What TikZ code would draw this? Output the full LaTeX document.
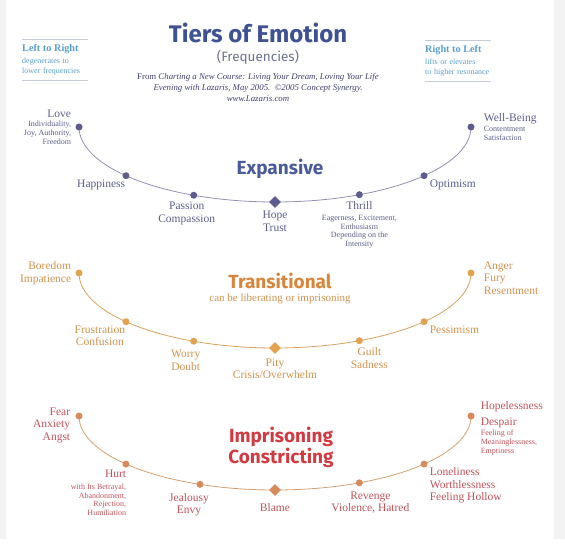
\documentclass[tikz,border=0pt]{standalone}
\usepackage{fontspec}
\setmainfont{Liberation Serif}
\newfontfamily\headfont{Fira Sans}
\usepackage{tikz}
\usetikzlibrary{
  positioning,
  shapes.geometric,
  backgrounds,
}

\definecolor{titleblue}{HTML}{3E5192}
\definecolor{subgray}{HTML}{6E7090}
\definecolor{citeblue}{HTML}{3E3E70}
\definecolor{sideblue}{HTML}{5A9ECF}
\definecolor{rulegray}{HTML}{C5CCD4}
\definecolor{sidegray}{HTML}{F3F3F3}
\definecolor{expdot}{HTML}{5E5B8F}
\definecolor{expline}{HTML}{9390B5}
\definecolor{exptext}{HTML}{5C5E8E}
\definecolor{exphead}{HTML}{4A5B9B}
\definecolor{trdot}{HTML}{E2A24E}
\definecolor{trline}{HTML}{D9A15E}
\definecolor{trtext}{HTML}{D3924F}
\definecolor{trhead}{HTML}{D8863B}
\definecolor{imdot}{HTML}{D98A5C}
\definecolor{imline}{HTML}{D4A072}
\definecolor{imtext}{HTML}{C2525A}
\definecolor{imhead}{HTML}{D23A41}

\newcommand\mtxt{\fontsize{11.5}{12.5}\selectfont}
\newcommand\stxt{\fontsize{8}{8.8}\selectfont}

\begin{document}
\begin{tikzpicture}[
  x=1pt, y=1pt,
  dot/.style={circle, fill, inner sep=0pt, minimum size=7pt},
  gem/.style={diamond, fill, inner sep=0pt, minimum width=12pt, minimum height=12pt},
  tier/.style={line width=0.8pt},
  lbl/.style={font=\mtxt, inner sep=1pt, align=center},
  mix/.style={font=\stxt, inner sep=1pt},
  tierhead/.style={font=\headfont\bfseries\fontsize{19}{21}\selectfont, align=center, inner sep=0pt},
  side/.style={font=\fontsize{8}{10}\selectfont, text=sideblue, align=left,
    inner xsep=0pt, inner ysep=5pt, text width=66pt},
  rule/.style={draw=rulegray, line width=0.6pt},
]

\useasboundingbox (0,0) rectangle (565,-556);
\fill[sidegray] (0,0) rectangle (6,-539);
\fill[sidegray] (554,0) rectangle (565,-539);

% ── Header ──────────────────────────────────────────────────────────
\node[font=\headfont\bfseries\fontsize{24}{28}\selectfont, text=titleblue, inner sep=0pt]
  (title) at (258,-33) {Tiers of Emotion};
\node[font=\headfont\fontsize{13.5}{16}\selectfont, text=subgray, inner sep=0pt]
  (freq) at (258,-57) {(Frequencies)};
\node[font=\itshape\fontsize{8.8}{11}\selectfont, text=citeblue, align=center, inner sep=0pt]
  (cite) at (258,-87)
  {{\upshape From} Charting a New Course: Living Your Dream, Loving Your Life\\
   Evening with Lazaris, May 2005.\ \ ©2005 Concept Synergy.\\
   www.Lazaris.com};

\node[side, anchor=north west] (ltr) at (22,-39)
  {{\bfseries\fontsize{10.2}{12}\selectfont Left to Right}\\[2pt]degenerates to\\lower frequencies};
\node[side, anchor=north west] (rtl) at (425,-40)
  {{\bfseries\fontsize{10.2}{12}\selectfont Right to Left}\\[2pt]lifts or elevates\\to higher resonance};
\draw[rule] (ltr.north west) -- (ltr.north east);
\draw[rule] (ltr.south west) -- (ltr.south east);
\draw[rule] (rtl.north west) -- (rtl.north east);
\draw[rule] (rtl.south west) -- (rtl.south east);

% ── Expansive ───────────────────────────────────────────────────────
\coordinate (expc) at (275,-127);
\node[dot, expdot] (love)  at ([shift={(180:196 and 75)}]expc) {};
\node[dot, expdot] (happy) at ([shift={(220.5:196 and 75)}]expc) {};
\node[dot, expdot] (pass)  at ([shift={(245.5:196 and 75)}]expc) {};
\node[gem, expdot] (hope)  at ([shift={(270:196 and 75)}]expc) {};
\node[dot, expdot] (thril) at ([shift={(295.5:196 and 75)}]expc) {};
\node[dot, expdot] (optim) at ([shift={(319.5:196 and 75)}]expc) {};
\node[dot, expdot] (wellb) at ([shift={(360:196 and 75)}]expc) {};

\node[mix, text=exptext, align=right, left=3pt of love]
  {{\mtxt Love}\\[1pt]Individuality,\\Joy, Authority,\\Freedom};
\node[lbl, text=exptext, below left=0pt and -3pt of happy] {Happiness};
\node[lbl, text=exptext, below=2pt of pass, xshift=-7pt] {Passion\\Compassion};
\node[lbl, text=exptext, below=2pt of hope] {Hope\\Trust};
\node[mix, text=exptext, align=center, below=2pt of thril]
  {{\mtxt Thrill}\\[2pt]Eagerness, Excitement,\\Enthusiasm\\Depending on the\\Intensity};
\node[lbl, text=exptext, below right=0pt and 2pt of optim] {Optimism};
\node[mix, text=exptext, align=left, right=8pt of wellb]
  {{\mtxt Well-Being}\\[2pt]Contentment\\Satisfaction};
\node[tierhead, text=exphead] (exph) at (280,-169) {Expansive};

% ── Transitional ────────────────────────────────────────────────────
\coordinate (trc) at (275,-273);
\node[dot, trdot] (bored) at ([shift={(180:196 and 75)}]trc) {};
\node[dot, trdot] (frust) at ([shift={(220.5:196 and 75)}]trc) {};
\node[dot, trdot] (worry) at ([shift={(245.5:196 and 75)}]trc) {};
\node[gem, trdot] (pity)  at ([shift={(270:196 and 75)}]trc) {};
\node[dot, trdot] (guilt) at ([shift={(295.5:196 and 75)}]trc) {};
\node[dot, trdot] (pessi) at ([shift={(319.5:196 and 75)}]trc) {};
\node[dot, trdot] (anger) at ([shift={(360:196 and 75)}]trc) {};

\node[lbl, text=trtext, align=right, left=3pt of bored] {Boredom\\Impatience};
\node[lbl, text=trtext, below left=0pt and -3pt of frust] {Frustration\\Confusion};
\node[lbl, text=trtext, below=4pt of worry, xshift=-8pt] {Worry\\Doubt};
\node[lbl, text=trtext, below=3pt of pity] {Pity\\Crisis/Overwhelm};
\node[lbl, text=trtext, below=2pt of guilt, xshift=10pt] {Guilt\\Sadness};
\node[lbl, text=trtext, below right=0pt and 2pt of pessi] {Pessimism};
\node[lbl, text=trtext, align=left, right=8pt of anger, yshift=-5pt] {Anger\\Fury\\Resentment};
\node[tierhead, text=trhead] (trh) at (280,-281) {Transitional};
\node[lbl, font=\fontsize{11}{12}\selectfont, text=trtext] (trsub) at (280,-299)
  {can be liberating or imprisoning};

% ── Imprisoning ─────────────────────────────────────────────────────
\coordinate (imc) at (275,-416);
\node[dot, imdot] (fear)  at ([shift={(180:196 and 74)}]imc) {};
\node[dot, imdot] (hurt)  at ([shift={(220.5:196 and 74)}]imc) {};
\node[dot, imdot] (jeal)  at ([shift={(247.5:196 and 74)}]imc) {};
\node[gem, imdot] (blame) at ([shift={(270:196 and 74)}]imc) {};
\node[dot, imdot] (reven) at ([shift={(295.5:196 and 74)}]imc) {};
\node[dot, imdot] (lonel) at ([shift={(319.5:196 and 74)}]imc) {};
\node[dot, imdot] (hopel) at ([shift={(360:196 and 74)}]imc) {};

\node[lbl, text=imtext, align=right, below left=-12pt and 5pt of fear] {Fear\\Anxiety\\Angst};
\node[mix, text=imtext, align=right, below left=2pt and -4pt of hurt]
  {{\mtxt Hurt}\\[3pt]with Its Betrayal,\\Abandonment,\\Rejection,\\Humiliation};
\node[lbl, text=imtext, below=4pt of jeal, xshift=-11pt] {Jealousy\\Envy};
\node[lbl, text=imtext, below=6pt of blame] {Blame};
\node[lbl, text=imtext, below=4pt of reven, xshift=11pt] {Revenge\\Violence, Hatred};
\node[lbl, text=imtext, align=left, below right=0pt and 2pt of lonel]
  {Loneliness\\Worthlessness\\Feeling Hollow};
\node[mix, text=imtext, align=left, below right=-18pt and 6pt of hopel]
  {{\mtxt Hopelessness}\\[4.2pt]{\mtxt Despair}\\[2pt]Feeling of\\Meaninglessness,\\Emptiness};
\node[tierhead, text=imhead] (imh) at (281,-447) {Imprisoning\\Constricting};

% ── Tier curves ─────────────────────────────────────────────────────
\begin{scope}[on background layer]
  \draw[tier, expline] (love.center) arc[start angle=180, end angle=360, x radius=196pt, y radius=75pt];
  \draw[tier, trline] (bored.center) arc[start angle=180, end angle=360, x radius=196pt, y radius=75pt];
  \draw[tier, imline] (fear.center) arc[start angle=180, end angle=360, x radius=196pt, y radius=74pt];
\end{scope}

\end{tikzpicture}
\end{document}
